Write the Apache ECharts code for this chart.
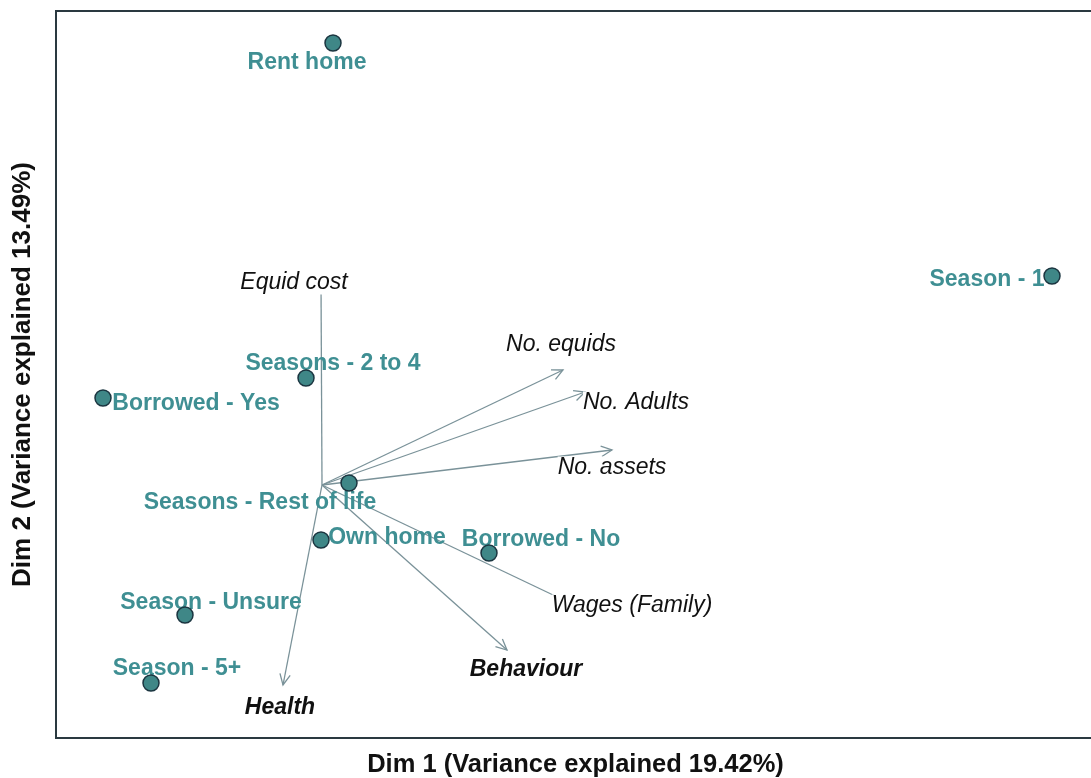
<!DOCTYPE html>
<html>
<head>
<meta charset="utf-8">
<script src="https://cdn.jsdelivr.net/npm/echarts@6/dist/echarts.min.js"></script>
<style>
html,body{margin:0;padding:0;background:#fff;}
#chart{width:1091px;height:778px;}
</style>
</head>
<body>
<div id="chart"></div>
<script>
// ---- Data (biplot coordinates) ----
const pointNames = ['Rent home','Season - 1','Seasons - 2 to 4','Borrowed - Yes','Seasons - Rest of life','Own home','Borrowed - No','Season - Unsure','Season - 5+'];
const pointX = [0.11, 7.30, -0.16, -2.19, 0.27, -0.01, 1.67, -1.37, -1.71];
const pointY = [4.42, 2.09, 1.07, 0.87, 0.02, -0.55, -0.68, -1.30, -1.98];
const pointLabelX = [-0.15, 6.65, 0.11, -1.26, -0.62, 0.65, 2.19, -1.11, -1.45];
const pointLabelY = [4.22, 2.05, 1.21, 0.81, -0.18, -0.53, -0.55, -1.18, -1.84];

const varNames = ['Equid cost','No. equids','No. Adults','No. assets','Wages (Family)','Behaviour','Health'];
const varX = [-0.01, 2.41, 2.63, 2.90, 2.50, 1.85, -0.39];
const varY = [2.02, 1.15, 0.93, 0.35, -1.19, -1.65, -2.00];
const varLabelX = [-0.28, 2.39, 3.14, 2.90, 3.10, 2.04, -0.42];
const varLabelY = [2.02, 1.40, 0.82, 0.17, -1.21, -1.85, -2.23];

const xTitle = 'Dim 1 (Variance explained 19.42%)';
const yTitle = 'Dim 2 (Variance explained 13.49%)';

// ---- Styles ----
const FONT = '"Liberation Sans", Arial, sans-serif';
const TEAL_TEXT = '#3f8f93';
const POINT_FILL = '#3f8787';
const POINT_BORDER = '#1b3540';
const ARROW = '#7a9299';
const boldVars = ['Behaviour', 'Health'];

const chart = echarts.init(document.getElementById('chart'), null, {renderer: 'canvas'});

const option = {
  animation: false,
  backgroundColor: '#fff',
  grid: {
    left: 56, top: 11, right: -4, bottom: 40,
    outerBoundsMode: 'none',
    containLabel: false,
    show: true, borderColor: '#2a3940', borderWidth: 2, backgroundColor: 'transparent'
  },
  xAxis: {
    type: 'value', min: -2.66, max: 7.73,
    axisLine: {show: false}, axisTick: {show: false}, axisLabel: {show: false}, splitLine: {show: false},
    name: xTitle, nameLocation: 'middle', nameGap: 14,
    nameTextStyle: {fontFamily: FONT, fontWeight: 'bold', fontSize: 25.5, color: '#111'}
  },
  yAxis: {
    type: 'value', min: -2.53, max: 4.74,
    axisLine: {show: false}, axisTick: {show: false}, axisLabel: {show: false}, splitLine: {show: false},
    name: yTitle, nameLocation: 'middle', nameGap: 20,
    nameTextStyle: {fontFamily: FONT, fontWeight: 'bold', fontSize: 26, color: '#111'}
  },
  series: [
    {
      type: 'custom',
      z: 2,
      silent: true,
      data: varX.map((x, i) => [x, varY[i]]),
      renderItem: function (params, api) {
        const o = api.coord([0, 0]);
        const e = api.coord([api.value(0), api.value(1)]);
        const ang = Math.atan2(e[1] - o[1], e[0] - o[0]);
        const L = 12, A = Math.PI / 7;
        const h1 = [e[0] - L * Math.cos(ang - A), e[1] - L * Math.sin(ang - A)];
        const h2 = [e[0] - L * Math.cos(ang + A), e[1] - L * Math.sin(ang + A)];
        return {
          type: 'group',
          children: [
            {type: 'line', shape: {x1: o[0], y1: o[1], x2: e[0], y2: e[1]}, style: {stroke: ARROW, lineWidth: 1.3}},
            {type: 'polyline', shape: {points: [h1, e, h2]}, style: {stroke: ARROW, fill: null, lineWidth: 1.3}}
          ]
        };
      }
    },
    {
      // point labels
      type: 'scatter',
      z: 3,
      silent: true,
      symbolSize: 1,
      itemStyle: {color: 'rgba(0,0,0,0)', opacity: 1},
      data: pointNames.map((n, i) => ({name: n, value: [pointLabelX[i], pointLabelY[i]]})),
      label: {
        show: true, position: 'inside', formatter: '{b}',
        fontFamily: FONT, fontWeight: 'bold', fontSize: 23, color: TEAL_TEXT, opacity: 1
      }
    },
    {
      // points
      type: 'scatter',
      z: 4,
      silent: true,
      symbol: 'circle',
      symbolSize: 16,
      itemStyle: {color: POINT_FILL, borderColor: POINT_BORDER, borderWidth: 1.5, opacity: 1},
      data: pointNames.map((n, i) => ({name: n, value: [pointX[i], pointY[i]]}))
    },
    {
      // variable labels
      type: 'scatter',
      z: 5,
      silent: true,
      symbolSize: 1,
      itemStyle: {color: 'rgba(0,0,0,0)', opacity: 1},
      data: varNames.map((n, i) => ({
        name: n, value: [varLabelX[i], varLabelY[i]],
        label: {fontWeight: boldVars.includes(n) ? 'bold' : 'normal'}
      })),
      label: {
        show: true, position: 'inside', formatter: '{b}',
        fontFamily: FONT, fontStyle: 'italic', fontSize: 23, color: '#111', opacity: 1,
        backgroundColor: '#fff', padding: 0
      }
    }
  ]
};
chart.setOption(option);
</script>
</body>
</html>
